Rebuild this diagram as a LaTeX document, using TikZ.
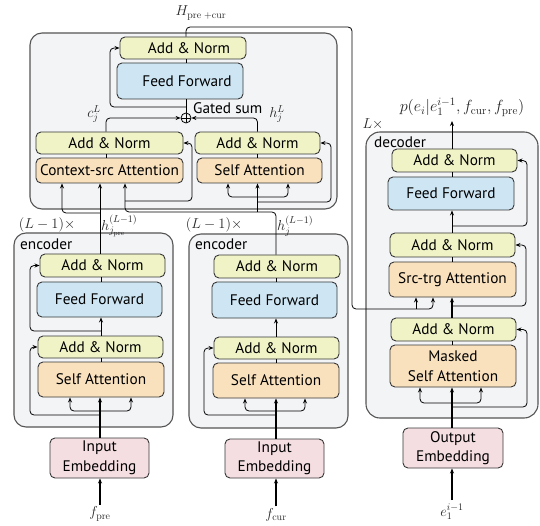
\documentclass[tikz,border=0pt]{standalone}
\usepackage[no-math]{fontspec}
\usepackage{graphicx}
\newfontfamily\boxfont{PT Sans}
\usetikzlibrary{arrows.meta,calc}
\definecolor{cont}{RGB}{243,244,246}
\definecolor{contline}{RGB}{85,85,85}
\definecolor{anfill}{RGB}{240,243,198}
\definecolor{fffill}{RGB}{206,230,244}
\definecolor{attfill}{RGB}{249,225,190}
\definecolor{embfill}{RGB}{245,222,226}
\definecolor{boxline}{RGB}{55,55,55}
\begin{document}
\begin{tikzpicture}[x=1pt,y=-1pt,
 container/.style={draw=contline, fill=cont, line width=1.1pt, rounded corners=12pt, inner sep=0pt},
 blk/.style={draw=boxline, line width=0.9pt, rounded corners=5pt, inner sep=0pt, font=\boxfont\fontsize{15.3}{19.5}\selectfont, align=center},
 an/.style={blk, fill=anfill},
 ff/.style={blk, fill=fffill},
 att/.style={blk, fill=attfill},
 emb/.style={blk, fill=embfill},
 lbl/.style={inner sep=0pt, font=\boxfont\fontsize{15.3}{17}\selectfont},
 mlbl/.style={inner sep=0pt, font=\Large, text=black!85},
 cn/.style={line width=0.8pt, rounded corners=4pt},
 main/.style={line width=1.3pt, rounded corners=4pt},
 arr/.style={-{Stealth[length=5pt,width=4pt]}},
]
\path[use as bounding box] (0,0) rectangle (540,526);

% containers
\node[container, minimum width=307pt, minimum height=176pt] (top) at (183.5,121) {};
\node[container, minimum width=159pt, minimum height=194pt] (enc1) at (93.5,330) {};
\node[container, minimum width=159pt, minimum height=194pt] (enc2) at (268.5,331) {};
\node[container, rounded corners=14pt, minimum width=172pt, minimum height=286pt] (dec) at (452,275) {};

\node[lbl, anchor=west] (enc1lbl) at (20,244) {encoder};
\node[lbl, anchor=west] (enc2lbl) at (195,244) {encoder};
\node[lbl, anchor=west] (declbl) at (374,142) {decoder};

% top block
\node[an, minimum width=126pt, minimum height=22pt] (tan) at (183,48) {\hspace*{12pt}Add \& Norm};
\node[ff, minimum width=126pt, minimum height=36pt] (tff) at (180,81) {\hspace*{14pt}Feed Forward};
\node[draw, circle, line width=0.8pt, minimum size=10pt, inner sep=0pt,
  path picture={\draw[line width=0.8pt] (path picture bounding box.north) -- (path picture bounding box.south)
   (path picture bounding box.west) -- (path picture bounding box.east);}] (gs) at (186,118) {};
\node[lbl, anchor=west] (gslbl) at (193,108) {Gated sum};
\node[an, minimum width=147pt, minimum height=22pt] (lan) at (109.5,143) {Add \& Norm};
\node[att, minimum width=147pt, minimum height=25pt] (csa) at (109.5,170.5) {Context-src Attention};
\node[an, minimum width=125pt, minimum height=22pt] (ran) at (257.5,143) {Add \& Norm};
\node[att, minimum width=125pt, minimum height=25pt] (rsa) at (259.5,170.5) {Self Attention};
\node[mlbl] (clbl) at (94,114) {$c_j^L$};
\node[mlbl] (hlbl) at (277,114) {$h_j^L$};
\node[mlbl] (Hlbl) at (201,13) {$H_{\mathrm{pre}\;+\mathrm{cur}}$};

% encoder 1
\node[an, minimum width=125pt, minimum height=23pt] (e1an) at (102.5,265.5) {Add \& Norm};
\node[ff, minimum width=125pt, minimum height=35pt] (e1ff) at (99.5,299.5) {Feed Forward};
\node[an, minimum width=125pt, minimum height=22pt] (e1an2) at (100.5,347) {Add \& Norm};
\node[att, minimum width=126pt, minimum height=35pt] (e1sa) at (101,379.5) {Self Attention};
\node[emb, minimum width=99pt, minimum height=40pt] (e1emb) at (99.5,458) {Input\\Embedding};
\node[mlbl] (fpre) at (100,514) {$f_{\mathrm{pre}}$};
\node[mlbl] (e1rep) at (47,225) {$(L-1)\times$};
\node[mlbl, anchor=west] (e1out) at (101,226) {$h_{j_{\mathrm{pre}}}^{(L-1)}$};

% encoder 2
\node[an, minimum width=126pt, minimum height=23pt] (e2an) at (277,266.5) {Add \& Norm};
\node[ff, minimum width=125pt, minimum height=36pt] (e2ff) at (274.5,300) {Feed Forward};
\node[an, minimum width=125pt, minimum height=22pt] (e2an2) at (276.5,348) {Add \& Norm};
\node[att, minimum width=126pt, minimum height=35pt] (e2sa) at (276,380.5) {Self Attention};
\node[emb, minimum width=99pt, minimum height=39pt] (e2emb) at (274.5,458.5) {Input\\Embedding};
\node[mlbl] (fcur) at (276,515) {$f_{\mathrm{cur}}$};
\node[mlbl] (e2rep) at (214,225) {$(L-1)\times$};
\node[mlbl, anchor=west] (e2out) at (277,226) {$h_j^{(L-1)}$};

% decoder
\node[an, minimum width=125pt, minimum height=23pt] (dan) at (454.5,160.5) {Add \& Norm};
\node[ff, minimum width=126pt, minimum height=33pt] (dff) at (451,193.5) {Feed Forward};
\node[an, minimum width=125pt, minimum height=24pt] (dan2) at (452.5,245) {Add \& Norm};
\node[att, minimum width=127pt, minimum height=35pt] (dst) at (452.5,279.5) {Src-trg Attention};
\node[an, minimum width=125pt, minimum height=23pt] (dan3) at (453.5,329.5) {Add \& Norm};
\node[att, minimum width=126pt, minimum height=42pt] (dmsa) at (453,366) {Masked\\Self Attention};
\node[emb, minimum width=100pt, minimum height=40pt] (demb) at (453,448) {Output\\Embedding};
\node[mlbl] (einp) at (452,512) {$e_1^{i-1}$};
\node[mlbl] (drep) at (373,124) {$L\times$};
\node[mlbl] (plbl) at (462,107) {\scalebox{1.12}{$p(e_i|e_1^{i-1},f_{\mathrm{cur}},f_{\mathrm{pre}})$}};
\coordinate (pout) at (452,121);

% ---- top block connectors
\draw[cn,arr] (lan.north -| 106,0) -- (106,118) -- (gs.west);
\draw[cn,arr] (ran.north) -- (257.5,118) -- (gs.east);
\draw[cn] (gs.north) -- (gs.north |- tff.south);
\draw[cn,arr] (186,107) -- (110,107) -- (110,48) -- (tan.west);
\draw[cn] (tff.north -| 186,0) -- (tan.south -| 186,0);
\draw[cn] (csa.north -| 106,0) -- (lan.south -| 106,0);
\draw[cn] (rsa.north -| 257.5,0) -- (ran.south -| 257.5,0);
\draw[cn,arr] (tan.north -| 186,0) -- (186,27) -- (352,27) -- (352,309) -- (433,309) -- (dst.south -| 433,0);
\draw[cn,arr] (416,309) -- (dst.south -| 416,0);

% encoders -> top block
\draw[cn,arr] (e1an.north -| 100,0) -- (csa.south -| 100,0);
\draw[cn,arr] (100,213) -- (62,213) -- (csa.south -| 62,0);
\draw[cn,arr] (e2an.north -| 276,0) -- (276,212) -- (125,212) -- (csa.south -| 125,0);
\draw[cn,arr] (257.5,212) -- (rsa.south -| 257.5,0);
\draw[cn,arr] (125,201) -- (192,201) -- (192,143) -- (lan.east);
\draw[cn,arr] (257.5,202) -- (331,202) -- (331,143) -- (ran.east);
\draw[cn,arr] (257.5,197) -- (228,197) -- (rsa.south -| 228,0);
\draw[cn,arr] (257.5,197) -- (288,197) -- (rsa.south -| 288,0);

% encoder 1
\draw[cn,arr,line width=1.1pt,shorten <=2pt] (fpre.north) -- (e1emb.south -| fpre.north);
\draw[main,arr] (e1emb.north -| 100,0) -- (e1sa.south -| 100,0);
\draw[cn,arr] (100,411) -- (70,411) -- (e1sa.south -| 70,0);
\draw[cn,arr] (100,411) -- (131,411) -- (e1sa.south -| 131,0);
\draw[cn,arr] (100,415) -- (30,415) -- (30,347) -- (e1an2.west);
\draw[cn] (e1sa.north -| 101,0) -- (e1an2.south -| 101,0);
\draw[cn,arr] (e1an2.north -| 101,0) -- (e1ff.south -| 101,0);
\draw[cn,arr] (101,331) -- (30,331) -- (30,265.5) -- (e1an.west);
\draw[cn] (e1ff.north -| 101,0) -- (e1an.south -| 101,0);

% encoder 2
\draw[cn,arr,line width=1.1pt,shorten <=2pt] (fcur.north) -- (e2emb.south -| fcur.north);
\draw[main,arr] (e2emb.north -| 276,0) -- (e2sa.south -| 276,0);
\draw[cn,arr] (276,411) -- (245,411) -- (e2sa.south -| 245,0);
\draw[cn,arr] (276,411) -- (305,411) -- (e2sa.south -| 305,0);
\draw[cn,arr] (276,415) -- (204,415) -- (204,348) -- (e2an2.west);
\draw[cn] (e2sa.north -| 276,0) -- (e2an2.south -| 276,0);
\draw[cn,arr] (e2an2.north -| 276,0) -- (e2ff.south -| 276,0);
\draw[cn] (e2ff.north -| 276,0) -- (e2an.south -| 276,0);

% decoder
\draw[cn,arr,line width=1.1pt,shorten <=4pt] (einp.north) -- (demb.south -| einp.north);
\draw[main,arr] (demb.north -| 452,0) -- (dmsa.south -| 452,0);
\draw[cn,arr] (452,403) -- (420,403) -- (dmsa.south -| 420,0);
\draw[cn,arr] (452,403) -- (481,403) -- (dmsa.south -| 481,0);
\draw[cn,arr] (452,407) -- (527,407) -- (527,329.5) -- (dan3.east);
\draw[cn] (dmsa.north -| 452,0) -- (dan3.south -| 452,0);
\draw[main,arr] (dan3.north -| 452,0) -- (dst.south -| 452,0);
\draw[cn,arr] (452,306) -- (526,306) -- (526,245) -- (dan2.east);
\draw[cn] (dst.north -| 452,0) -- (dan2.south -| 452,0);
\draw[cn,arr] (dan2.north -| 452,0) -- (dff.south -| 452,0);
\draw[cn,arr] (452,226) -- (527,226) -- (527,160.5) -- (dan.east);
\draw[cn] (dff.north -| 452,0) -- (dan.south -| 452,0);
\draw[cn,arr] (dan.north -| 452,0) -- (pout);
\end{tikzpicture}
\end{document}
